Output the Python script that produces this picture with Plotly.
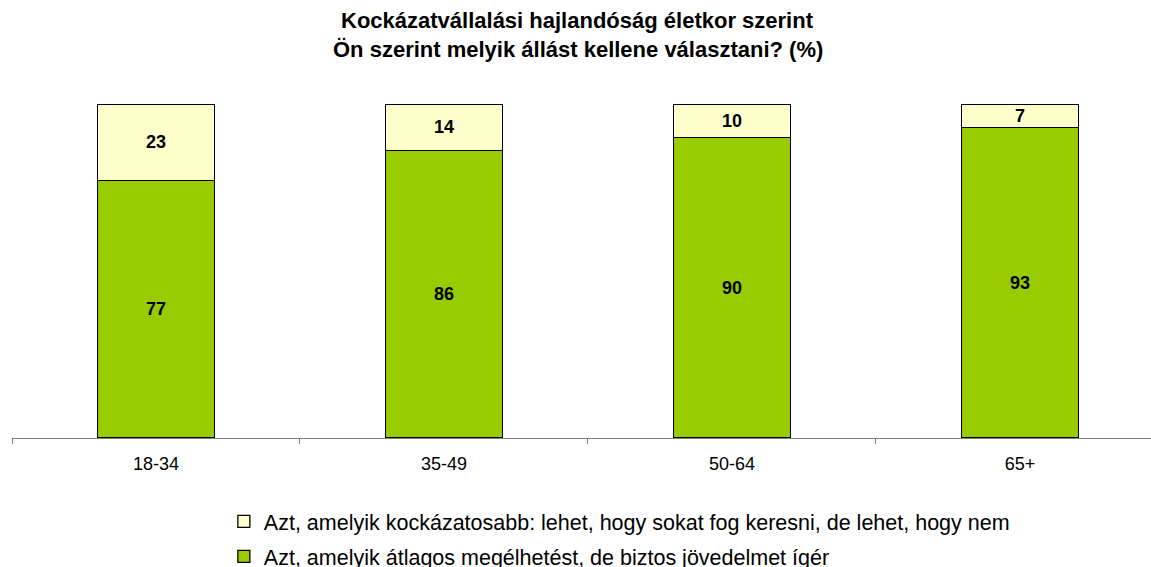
import plotly.graph_objects as go

categories = ["18-34", "35-49", "50-64", "65+"]
safe_vals = [77, 86, 90, 93]
risky_vals = [23, 14, 10, 7]
safe_name = "Azt, amelyik átlagos megélhetést, de biztos jövedelmet ígér"
risky_name = "Azt, amelyik kockázatosabb: lehet, hogy sokat fog keresni, de lehet, hogy nem"
title1 = "Kockázatvállalási hajlandóság életkor szerint"
title2 = "Ön szerint melyik állást kellene választani? (%)"

FONT = "Liberation Sans, Arial, sans-serif"
W, H = 1151, 567
ml, mr, mt, mb = 12, 0, 104, 129
plot_h = H - mt - mb

label_font = dict(family=FONT, size=18, color="black", weight="bold")

fig = go.Figure()
fig.add_trace(go.Bar(
    x=categories, y=safe_vals, name=safe_name, legendgroup="a", legendrank=2,
    marker=dict(color="#99CC00", line=dict(color="black", width=1.3)),
    text=safe_vals, textposition="inside", insidetextanchor="middle",
    textangle=0, constraintext="none", textfont=label_font,
    width=0.406,
))
fig.add_trace(go.Bar(
    x=categories, y=risky_vals, name=risky_name, legendgroup="b", legendrank=1,
    marker=dict(color="#FFFFCC", line=dict(color="black", width=1.3)),
    text=risky_vals, textposition="inside", insidetextanchor="middle",
    textangle=0, constraintext="none", textfont=label_font,
    width=0.406,
))

fig.update_layout(
    width=W, height=H,
    margin=dict(l=ml, r=mr, t=mt, b=mb, autoexpand=False),
    barmode="stack",
    plot_bgcolor="white", paper_bgcolor="white",
    font=dict(family=FONT, color="black"),
    uniformtext=dict(mode=False),
    showlegend=True,
    legend=dict(
        x=0.186, xanchor="left", y=-(501 - 438) / plot_h, yanchor="top",
        traceorder="grouped", tracegroupgap=4,
        font=dict(family=FONT, size=21.5, color="black"),
        bgcolor="rgba(0,0,0,0)",
    ),
    xaxis=dict(
        range=[-0.5, 3.455], showgrid=False, showline=True, linecolor="#808080", linewidth=1,
        ticks="outside", tickson="boundaries", ticklen=5, tickcolor="#808080",
        ticklabelstandoff=9,
        tickfont=dict(family=FONT, size=18, color="black"), fixedrange=True,
    ),
    yaxis=dict(range=[0, 100], visible=False, fixedrange=True),
)
fig.add_annotation(text="<b>" + title1 + "</b>", xref="paper", yref="paper",
                   x=0.4965, y=(H - mb - 20) / plot_h, xanchor="center", yanchor="middle",
                   showarrow=False, font=dict(family=FONT, size=22, color="black"))
fig.add_annotation(text="<b>" + title2 + "</b>", xref="paper", yref="paper",
                   x=0.4965, y=(H - mb - 50) / plot_h, xanchor="center", yanchor="middle",
                   showarrow=False, font=dict(family=FONT, size=22, color="black"))

fig.write_html("out.html", config={"displayModeBar": False},
               post_script="document.body.style.margin='0px';")
